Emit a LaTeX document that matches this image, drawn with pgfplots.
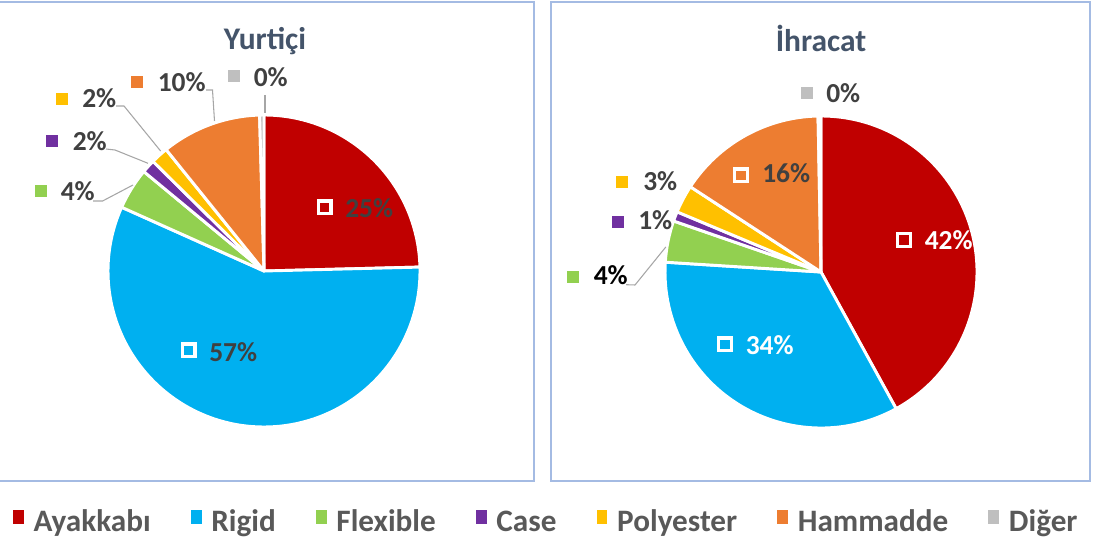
\documentclass[border=0pt]{standalone}
\usepackage{pgfplots}
\usepackage{pgfplotstable}
\pgfplotsset{compat=1.18}
\usepackage{fontspec}
\setmainfont{Carlito}
\definecolor{cAy}{HTML}{C00000}
\definecolor{cRi}{HTML}{00B0F0}
\definecolor{cFl}{HTML}{92D050}
\definecolor{cCa}{HTML}{7030A0}
\definecolor{cPo}{HTML}{FFC000}
\definecolor{cHa}{HTML}{ED7D31}
\definecolor{cDi}{HTML}{BFBFBF}
\definecolor{boxc}{HTML}{A4BBE3}
\definecolor{titlec}{HTML}{44546A}
\definecolor{labc}{HTML}{404040}
\definecolor{legc}{HTML}{595959}
\definecolor{leadc}{HTML}{A6A6A6}

\pgfplotstableread{
name      value  color
Ayakkabi  24.6   cAy
Rigid     57.1   cRi
Flexible  4.3    cFl
Case      1.4    cCa
Polyester 1.8    cPo
Hammadde  10.35  cHa
Diger     0.45   cDi
}\yurtici
\pgfplotstableread{
name      value  color
Ayakkabi  42.0   cAy
Rigid     34.0   cRi
Flexible  4.3    cFl
Case      1.0    cCa
Polyester 2.9    cPo
Hammadde  15.5   cHa
Diger     0.3    cDi
}\ihracat

% draws the slices of a pie from a table (clockwise from the top)
\newcommand{\drawpie}[1]{%
  \xdef\cum{0}%
  \foreach \i in {0,...,6}{%
    \pgfplotstablegetelem{\i}{value}\of#1\let\v\pgfplotsretval
    \pgfplotstablegetelem{\i}{color}\of#1\let\c\pgfplotsretval
    \pgfmathsetmacro\sa{90-3.6*\cum}%
    \pgfmathsetmacro\ea{90-3.6*(\cum+\v)}%
    \pgfmathsetmacro\xs{cos(\sa)}%
    \pgfmathsetmacro\ys{sin(\sa)}%
    \edef\tmp{\noexpand\filldraw[fill=\c, draw=white, line width=2.2pt, line join=round]
      (axis cs:0,0) -- (axis cs:\xs,\ys) arc[start angle=\sa, end angle=\ea, radius=117pt] -- cycle;}%
    \tmp
    \pgfmathsetmacro\nc{\cum+\v}\xdef\cum{\nc}%
  }}

\pgfplotsset{pieaxis/.style={
  hide axis, scale only axis, width=234pt, height=234pt,
  xmin=-1, xmax=1, ymin=-1, ymax=1, clip=false, anchor=center}}

\begin{document}
\begin{tikzpicture}
\path[use as bounding box] (0,0) rectangle (820.5pt,406.5pt);
\begin{scope}[x=0.75pt,y=-0.75pt,yshift=406.5pt]
  \draw[boxc, line width=1.1pt] (-4,2) rectangle (534,481);
  \draw[boxc, line width=1.1pt] (551,2) rectangle (1090,481);
\end{scope}

\begin{axis}[pieaxis, at={(198pt,203.25pt)},
  legend columns=7,
  legend style={at={(-0.3045,-0.3045)}, anchor=west, draw=none, fill=none,
    inner sep=0pt, outer sep=0pt,
    font=\bfseries\fontsize{23.4}{28}\selectfont, text=legc,
    nodes={inner sep=0pt},
    /tikz/every odd column/.append style={column sep=7.3pt},
    /tikz/every even column/.append style={column sep=30pt}},
  legend image code/.code={\fill[#1] (0pt,-1.5pt) rectangle (8.2pt,8.8pt);}]
  \drawpie{\yurtici}
  \addlegendimage{fill=cAy, draw=none}\addlegendentry{Ayakkabı}
  \addlegendimage{fill=cRi, draw=none}\addlegendentry{Rigid}
  \addlegendimage{fill=cFl, draw=none}\addlegendentry{Flexible}
  \addlegendimage{fill=cCa, draw=none}\addlegendentry{Case}
  \addlegendimage{fill=cPo, draw=none}\addlegendentry{Polyester}
  \addlegendimage{fill=cHa, draw=none}\addlegendentry{Hammadde}
  \addlegendimage{fill=cDi, draw=none}\addlegendentry{Diğer}
\end{axis}

\begin{axis}[pieaxis, at={(615.75pt,202.5pt)}]
  \drawpie{\ihracat}
\end{axis}

\begin{scope}[x=0.75pt,y=-0.75pt,yshift=406.5pt]
  % titles
  \node[anchor=base, inner sep=0, text=titlec, font=\bfseries\fontsize{23.6}{28}\selectfont] at (265,50) {Yurtiçi};
  \node[anchor=base, inner sep=0, text=titlec, font=\bfseries\fontsize{23.6}{28}\selectfont] at (821,51.5) {İhracat};
  % leader lines
  \begin{scope}[leadc, line width=0.8pt]
    \draw (93,201) -- (102.6,201) -- (133,185);
    \draw (106,149) -- (115,150) -- (148,163.3);
    \draw (116,106) -- (124,106) -- (160.6,151);
    \draw (206,90) -- (212.5,90) -- (214.5,121);
    \draw (265,95) -- (265,113);
    \draw (626,284.7) -- (635,285) -- (665.8,247);
  \end{scope}
  \tikzset{sq/.style={fill=#1, draw=none, minimum size=9pt, inner sep=0pt},
           isq/.style={fill=#1, draw=white, line width=2.4pt, minimum size=9.6pt, inner sep=0pt},
           lab/.style={anchor=base west, inner sep=0pt, text=labc, font=\bfseries\fontsize{20.6}{24}\selectfont}}
  % left pie labels
  \node[isq=cAy] at (324.5,207.5) {}; \node[lab] at (345,218) {25\%};
  \node[isq=cRi] at (188.5,350.5) {}; \node[lab] at (209,361.5) {57\%};
  \node[sq=cFl] at (41,191.5) {};   \node[lab] at (60.5,200.5) {4\%};
  \node[sq=cCa] at (52,141) {};     \node[lab] at (72.5,151) {2\%};
  \node[sq=cPo] at (62,99) {};      \node[lab] at (82,108) {2\%};
  \node[sq=cHa] at (136.5,82) {};   \node[lab] at (157.5,92) {10\%};
  \node[sq=cDi] at (234,76) {};     \node[lab] at (253.5,86.5) {0\%};
  % right pie labels
  \node[isq=cAy] at (904,240) {};   \node[lab, text=white] at (924.5,250) {42\%};
  \node[isq=cRi] at (725,344.5) {}; \node[lab, text=white] at (745.5,355) {34\%};
  \node[isq=cHa] at (741,175.5) {}; \node[lab] at (762,183) {16\%};
  \node[sq=cDi] at (806.5,93.5) {}; \node[lab] at (826,103) {0\%};
  \node[sq=cPo] at (621.5,182) {};  \node[lab] at (643,190.5) {3\%};
  \node[sq=cCa] at (618,221.7) {};  \node[lab] at (638,230) {1\%};
  \node[sq=cFl] at (573,276.7) {};  \node[lab, text=black] at (593.5,285) {4\%};
\end{scope}
\end{tikzpicture}
\end{document}
